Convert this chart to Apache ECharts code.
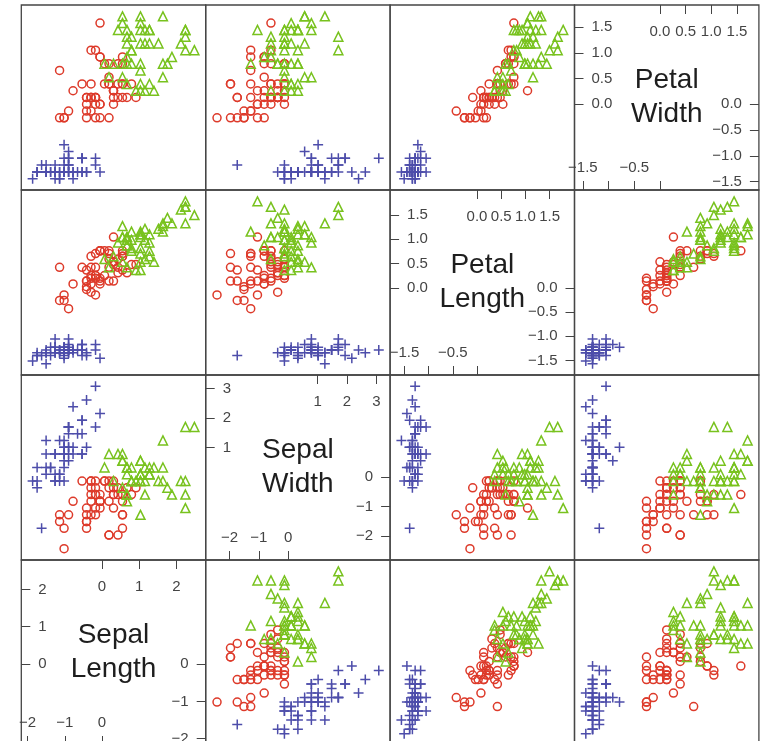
<!DOCTYPE html>
<html><head><meta charset="utf-8">
<script src="https://cdn.jsdelivr.net/npm/echarts@6/dist/echarts.min.js"></script>
<style>html,body{margin:0;padding:0;background:#fff}#chart{width:761px;height:741px}</style>
</head><body><div id="chart"></div>
<script>
// Variable names (diagonal panels), order = column order left to right
const variableNames = ['Sepal\nLength', 'Sepal\nWidth', 'Petal\nLength', 'Petal\nWidth'];

// Iris measurements (150 flowers)
const sepalLength = [
5.1,4.9,4.7,4.6,5.0,5.4,4.6,5.0,4.4,4.9,5.4,4.8,4.8,4.3,5.8,5.7,5.4,5.1,5.7,5.1,5.4,5.1,4.6,5.1,4.8,5.0,5.0,5.2,5.2,4.7,4.8,5.4,5.2,5.5,4.9,5.0,5.5,4.9,4.4,5.1,5.0,4.5,4.4,5.0,5.1,4.8,5.1,4.6,5.3,5.0,
7.0,6.4,6.9,5.5,6.5,5.7,6.3,4.9,6.6,5.2,5.0,5.9,6.0,6.1,5.6,6.7,5.6,5.8,6.2,5.6,5.9,6.1,6.3,6.1,6.4,6.6,6.8,6.7,6.0,5.7,5.5,5.5,5.8,6.0,5.4,6.0,6.7,6.3,5.6,5.5,5.5,6.1,5.8,5.0,5.6,5.7,5.7,6.2,5.1,5.7,
6.3,5.8,7.1,6.3,6.5,7.6,4.9,7.3,6.7,7.2,6.5,6.4,6.8,5.7,5.8,6.4,6.5,7.7,7.7,6.0,6.9,5.6,7.7,6.3,6.7,7.2,6.2,6.1,6.4,7.2,7.4,7.9,6.4,6.3,6.1,7.7,6.3,6.4,6.0,6.9,6.7,6.9,5.8,6.8,6.7,6.7,6.3,6.5,6.2,5.9];
const sepalWidth = [
3.5,3.0,3.2,3.1,3.6,3.9,3.4,3.4,2.9,3.1,3.7,3.4,3.0,3.0,4.0,4.4,3.9,3.5,3.8,3.8,3.4,3.7,3.6,3.3,3.4,3.0,3.4,3.5,3.4,3.2,3.1,3.4,4.1,4.2,3.1,3.2,3.5,3.6,3.0,3.4,3.5,2.3,3.2,3.5,3.8,3.0,3.8,3.2,3.7,3.3,
3.2,3.2,3.1,2.3,2.8,2.8,3.3,2.4,2.9,2.7,2.0,3.0,2.2,2.9,2.9,3.1,3.0,2.7,2.2,2.5,3.2,2.8,2.5,2.8,2.9,3.0,2.8,3.0,2.9,2.6,2.4,2.4,2.7,2.7,3.0,3.4,3.1,2.3,3.0,2.5,2.6,3.0,2.6,2.3,2.7,3.0,2.9,2.9,2.5,2.8,
3.3,2.7,3.0,2.9,3.0,3.0,2.5,2.9,2.5,3.6,3.2,2.7,3.0,2.5,2.8,3.2,3.0,3.8,2.6,2.2,3.2,2.8,2.8,2.7,3.3,3.2,2.8,3.0,2.8,3.0,2.8,3.8,2.8,2.8,2.6,3.0,3.4,3.1,3.0,3.1,3.1,3.1,2.7,3.2,3.3,3.0,2.5,3.0,3.4,3.0];
const petalLength = [
1.4,1.4,1.3,1.5,1.4,1.7,1.4,1.5,1.4,1.5,1.5,1.6,1.4,1.1,1.2,1.5,1.3,1.4,1.7,1.5,1.7,1.5,1.0,1.7,1.9,1.6,1.6,1.5,1.4,1.6,1.6,1.5,1.5,1.4,1.5,1.2,1.3,1.4,1.3,1.5,1.3,1.3,1.3,1.6,1.9,1.4,1.6,1.4,1.5,1.4,
4.7,4.5,4.9,4.0,4.6,4.5,4.7,3.3,4.6,3.9,3.5,4.2,4.0,4.7,3.6,4.4,4.5,4.1,4.5,3.9,4.8,4.0,4.9,4.7,4.3,4.4,4.8,5.0,4.5,3.5,3.8,3.7,3.9,5.1,4.5,4.5,4.7,4.4,4.1,4.0,4.4,4.6,4.0,3.3,4.2,4.2,4.2,4.3,3.0,4.1,
6.0,5.1,5.9,5.6,5.8,6.6,4.5,6.3,5.8,6.1,5.1,5.3,5.5,5.0,5.1,5.3,5.5,6.7,6.9,5.0,5.7,4.9,6.7,4.9,5.7,6.0,4.8,4.9,5.6,5.8,6.1,6.4,5.6,5.1,5.6,6.1,5.6,5.5,4.8,5.4,5.6,5.1,5.1,5.9,5.7,5.2,5.0,5.2,5.4,5.1];
const petalWidth = [
0.2,0.2,0.2,0.2,0.2,0.4,0.3,0.2,0.2,0.1,0.2,0.2,0.1,0.1,0.2,0.4,0.4,0.3,0.3,0.3,0.2,0.4,0.2,0.5,0.2,0.2,0.4,0.2,0.2,0.2,0.2,0.4,0.1,0.2,0.2,0.2,0.2,0.1,0.2,0.2,0.3,0.3,0.2,0.6,0.4,0.3,0.2,0.2,0.2,0.2,
1.4,1.5,1.5,1.3,1.5,1.3,1.6,1.0,1.3,1.4,1.0,1.5,1.0,1.4,1.3,1.4,1.5,1.0,1.5,1.1,1.8,1.3,1.5,1.2,1.3,1.4,1.4,1.7,1.5,1.0,1.1,1.0,1.2,1.6,1.5,1.6,1.5,1.3,1.3,1.3,1.2,1.4,1.2,1.0,1.3,1.2,1.3,1.3,1.1,1.3,
2.5,1.9,2.1,1.8,2.2,2.1,1.7,1.8,1.8,2.5,2.0,1.9,2.1,2.0,2.4,2.3,1.8,2.2,2.3,1.5,2.3,2.0,2.0,1.8,2.1,1.8,1.8,1.8,2.1,1.6,1.9,2.0,2.2,1.5,1.4,2.3,2.4,1.8,1.8,2.1,2.4,2.3,1.9,2.3,2.5,2.3,1.9,2.0,2.3,1.8];
// Cluster shown by colour/symbol: 1 = blue plus, 2 = red circle, 3 = green triangle
const cluster = [
1,1,1,1,1,1,1,1,1,1,1,1,1,1,1,1,1,1,1,1,1,1,1,1,1,1,1,1,1,1,1,1,1,1,1,1,1,1,1,1,1,1,1,1,1,1,1,1,1,1,
3,3,3,2,2,2,3,2,2,2,2,2,2,2,2,3,2,2,2,2,3,2,2,2,2,3,3,3,2,2,2,2,2,2,2,3,3,2,2,2,2,2,2,2,2,2,2,2,2,2,
3,2,3,3,3,3,2,3,3,3,3,3,3,2,2,3,3,3,3,2,3,2,3,2,3,3,2,3,3,3,3,3,3,2,2,3,3,3,2,3,3,3,2,3,3,3,2,3,3,2];

// Diagonal-panel tick values
const upperTicks = [[0,1,2],[1,2,3],[0,0.5,1,1.5],[0,0.5,1,1.5]];
const lowerTicks = [[-2,-1,0],[-2,-1,0],[-1.5,-1,-0.5,0],[-1.5,-1,-0.5,0]];
const bottomLabels = [[-2,-1,0],[-2,-1,0],[-1.5,-0.5],[-1.5,-0.5]];
const labelDecimals = [0,0,1,1];

// ---- layout / style ----
const X0 = 21.3, Y0 = 5, CW = 184.4, CH = 185;
const groupStyles = {
  1: {symbol: 'path://M5,0L5,10M0,5L10,5', size: 10, color: '#4d4daa'},
  2: {symbol: 'circle', size: 8, color: '#dd3a2a'},
  3: {symbol: 'triangle', size: 9, color: '#78c21e'}
};
const FONT = '"Liberation Sans", Arial, Helvetica, sans-serif';

function standardize(arr) {
  const n = arr.length;
  const m = arr.reduce((a, b) => a + b, 0) / n;
  const sd = Math.sqrt(arr.reduce((a, b) => a + (b - m) * (b - m), 0) / (n - 1));
  return arr.map(v => (v - m) / sd);
}
const z = [sepalLength, sepalWidth, petalLength, petalWidth].map(standardize);
const limits = z.map(a => {
  const lo = Math.min(...a), hi = Math.max(...a), d = hi - lo;
  return [lo - 0.07 * d, hi + 0.07 * d];
});
function fmt(dec) {
  return v => (dec ? v.toFixed(dec) : String(Math.round(v))).replace('-', '\u2212');
}

const grids = [], xAxes = [], yAxes = [], series = [], graphics = [];
const tickStyle = {color: '#444', width: 1};
const labelBase = {color: '#444', fontSize: 15, fontFamily: FONT};

for (let r = 0; r < 4; r++) {
  for (let c = 0; c < 4; c++) {
    const g = grids.length;
    const left = X0 + c * CW, top = Y0 + r * CH;
    grids.push({left: left, top: top, width: CW, height: CH, show: true,
      borderColor: '#454545', borderWidth: 1.3, backgroundColor: 'transparent',
      containLabel: false, outerBoundsMode: 'none'});
    const xv = c, yv = 3 - r;
    if (xv === yv) {
      const v = xv, f = fmt(labelDecimals[v]);
      const common = {gridIndex: g, type: 'value', min: limits[v][0], max: limits[v][1],
        axisLine: {show: false, onZero: false}, splitLine: {show: false}, silent: true};
      xAxes.push(Object.assign({}, common, {position: 'top',
        axisTick: {inside: true, length: 9, lineStyle: tickStyle, customValues: upperTicks[v]},
        axisLabel: Object.assign({}, labelBase, {inside: true, margin: 19, customValues: upperTicks[v], formatter: f})}));
      xAxes.push(Object.assign({}, common, {position: 'bottom',
        axisTick: {inside: true, length: 9, lineStyle: tickStyle, customValues: lowerTicks[v]},
        axisLabel: Object.assign({}, labelBase, {inside: true, margin: 15, customValues: bottomLabels[v], formatter: f})}));
      yAxes.push(Object.assign({}, common, {position: 'left',
        axisTick: {inside: true, length: 9, lineStyle: tickStyle, customValues: upperTicks[v]},
        axisLabel: Object.assign({}, labelBase, {inside: true, margin: 17, customValues: upperTicks[v], formatter: f})}));
      yAxes.push(Object.assign({}, common, {position: 'right',
        axisTick: {inside: true, length: 9, lineStyle: tickStyle, customValues: lowerTicks[v]},
        axisLabel: Object.assign({}, labelBase, {inside: true, margin: 17, customValues: lowerTicks[v], formatter: f})}));
      graphics.push({type: 'text', silent: true, x: left + CW / 2, y: top + CH / 2,
        style: {text: variableNames[v], align: 'center', verticalAlign: 'middle',
          font: '28px ' + FONT, lineHeight: 34, fill: '#1e1e1e'}});
    } else {
      const xi = xAxes.length, yi = yAxes.length;
      xAxes.push({gridIndex: g, type: 'value', min: limits[xv][0], max: limits[xv][1], show: false});
      yAxes.push({gridIndex: g, type: 'value', min: limits[yv][0], max: limits[yv][1], show: false});
      [1, 2, 3].forEach(k => {
        const st = groupStyles[k];
        const data = [];
        for (let i = 0; i < cluster.length; i++) {
          if (cluster[i] === k) data.push([z[xv][i], z[yv][i]]);
        }
        series.push({type: 'scatter', xAxisIndex: xi, yAxisIndex: yi, data: data,
          symbol: st.symbol, symbolSize: st.size, silent: true, animation: false,
          itemStyle: {color: 'rgba(0,0,0,0)', borderColor: st.color, borderWidth: 1.5, opacity: 1},
          emphasis: {disabled: true}});
      });
    }
  }
}

const chart = echarts.init(document.getElementById('chart'), null, {renderer: 'canvas'});
chart.setOption({
  animation: false,
  backgroundColor: '#ffffff',
  grid: grids, xAxis: xAxes, yAxis: yAxes, series: series, graphic: graphics
});
</script></body></html>
